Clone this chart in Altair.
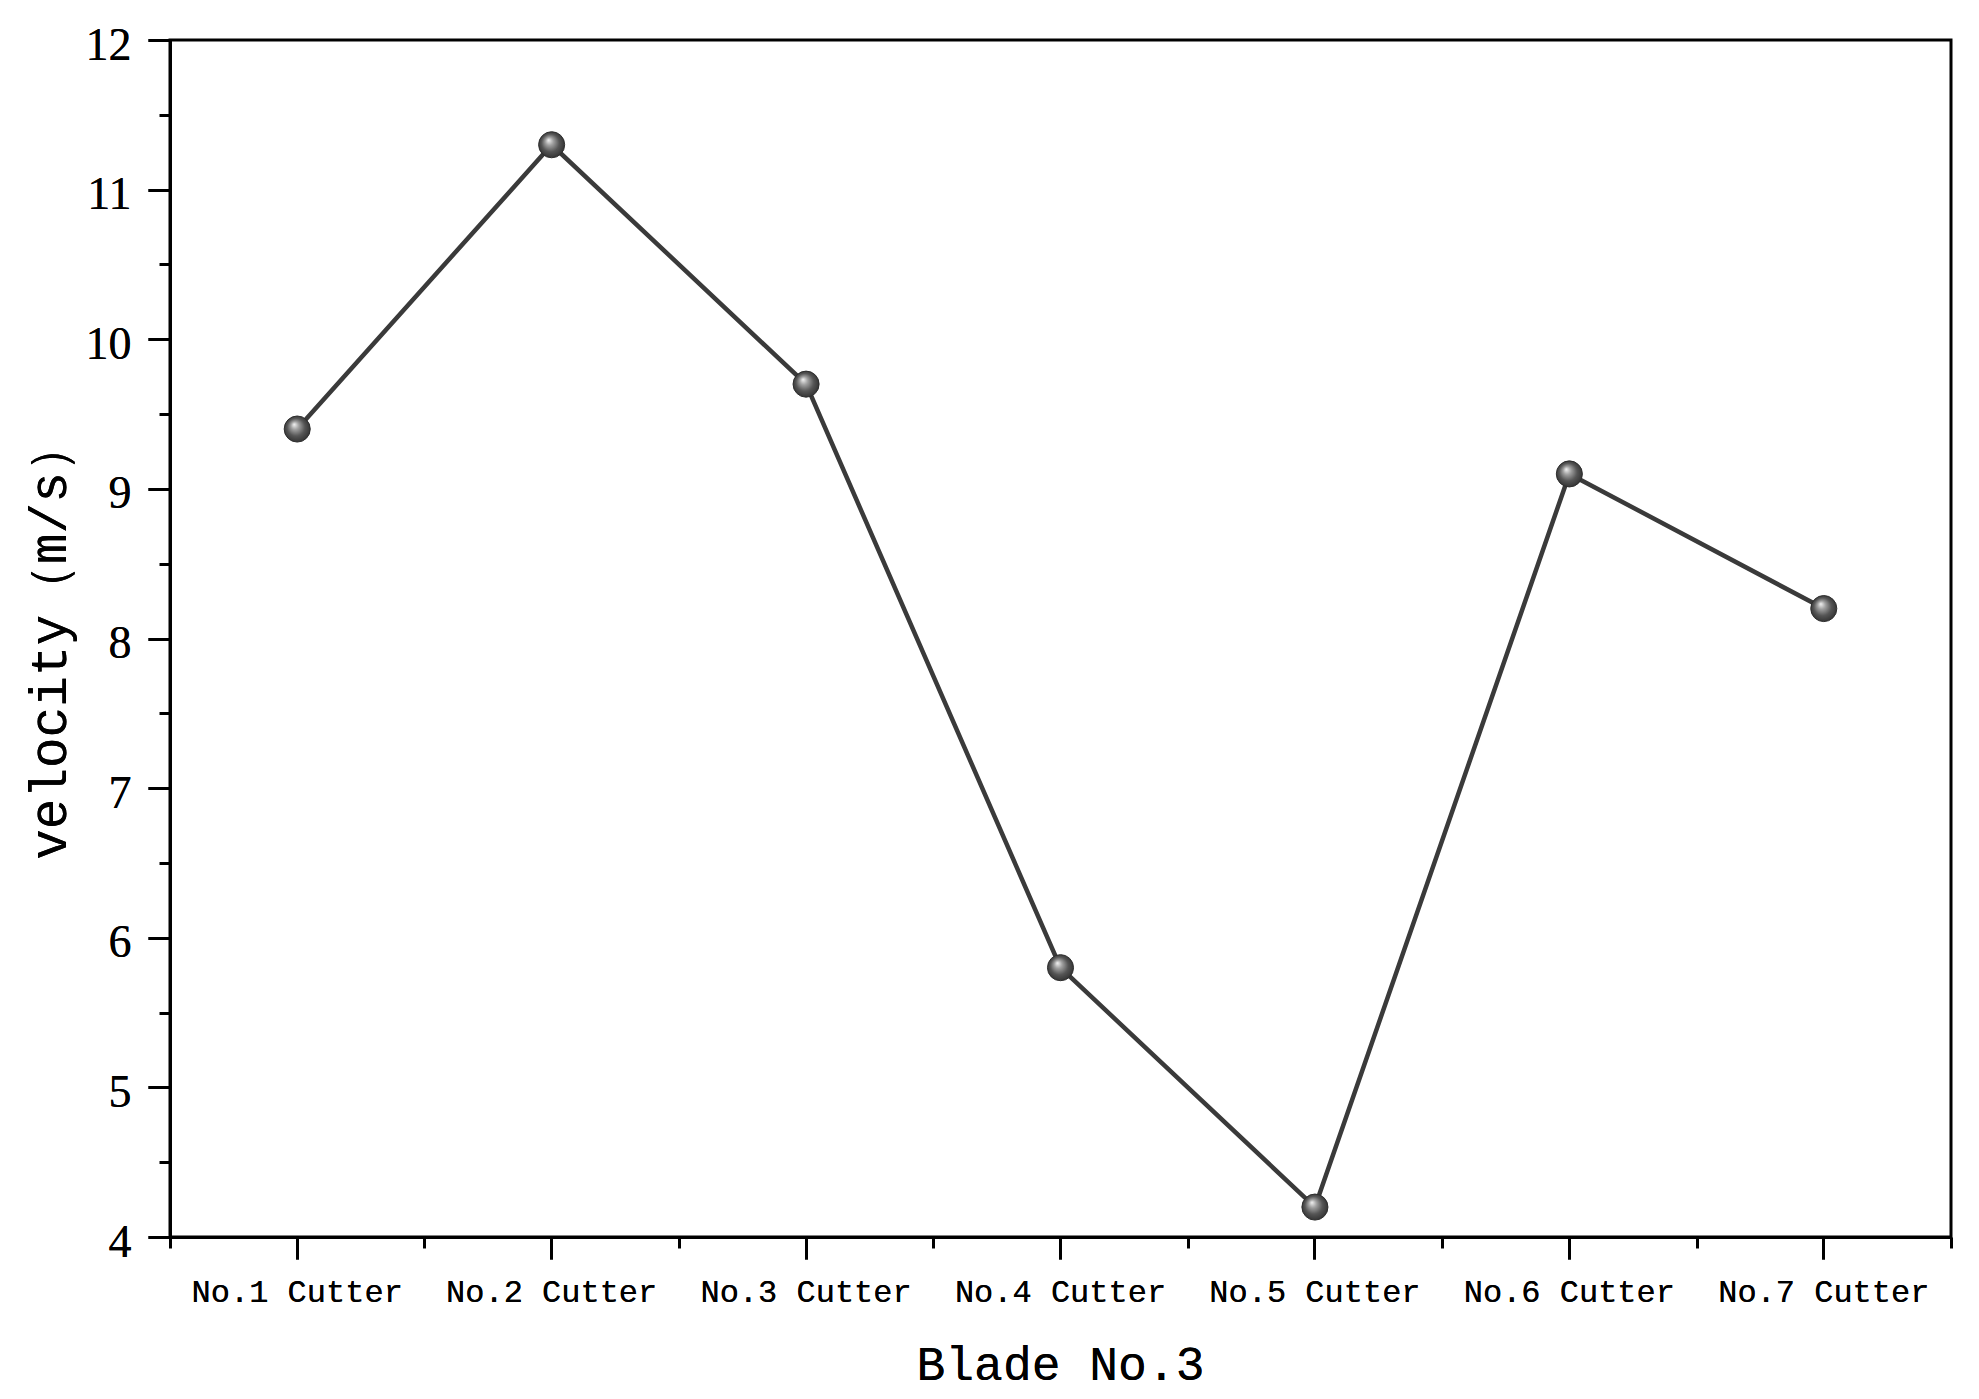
import altair as alt
import pandas as pd

cutters = ["No.1 Cutter", "No.2 Cutter", "No.3 Cutter", "No.4 Cutter",
           "No.5 Cutter", "No.6 Cutter", "No.7 Cutter"]
velocity = [9.4, 11.3, 9.7, 5.8, 4.2, 9.1, 8.2]
y_major = [4, 5, 6, 7, 8, 9, 10, 11, 12]
y_minor = [4.5, 5.5, 6.5, 7.5, 8.5, 9.5, 10.5, 11.5]

df = pd.DataFrame({"cutter": cutters, "velocity": velocity})

xscale = alt.Scale(type="band", domain=cutters, paddingInner=0, paddingOuter=0)
yscale = alt.Scale(domain=[4, 12], nice=False, zero=False)

common_axis = dict(grid=False, tickColor="black", tickWidth=3, domainColor="black",
                   domainWidth=3, labelColor="black", titleColor="black",
                   titleFontWeight="normal", labelLimit=0, titleLimit=0)

x_main = alt.X(
    "cutter:N", scale=xscale, title="Blade No.3",
    axis=alt.Axis(orient="bottom", labelAngle=0, labelFont="Liberation Mono",
                  labelFontSize=32, labelPadding=17, tickSize=22,
                  titleFont="Liberation Mono", titleFontSize=48,
                  titleBaseline="alphabetic", titleAlign="center",
                  titleX=890, titleY=142, **common_axis))
y_main = alt.Y(
    "velocity:Q", scale=yscale, title="velocity（m/s）",
    axis=alt.Axis(orient="left", values=y_major, labelFont="Liberation Serif",
                  labelFontSize=46, labelPadding=17, labelOffset=5, tickSize=22,
                  titleFont="Liberation Mono", titleFontSize=51, titleAngle=270,
                  titleBaseline="alphabetic", titleAlign="center",
                  titleX=-105, titleY=600, **common_axis))

sphere = {
    "gradient": "radial",
    "x1": 0.38, "y1": 0.32, "r1": 0.0,
    "x2": 0.5, "y2": 0.5, "r2": 0.55,
    "stops": [
        {"offset": 0.0, "color": "#f4f4f4"},
        {"offset": 0.28, "color": "#a0a0a0"},
        {"offset": 0.62, "color": "#555555"},
        {"offset": 1.0, "color": "#2e2e2e"},
    ],
}

base = alt.Chart(df)

line = base.mark_line(color="#3a3a3a", strokeWidth=4.5).encode(x=x_main, y=y_main)
points = base.mark_point(shape="circle", size=680, filled=True, fill=sphere,
                         stroke="#2e2e2e", strokeWidth=1, opacity=1).encode(x=x_main, y=y_main)

minor = base.mark_point(opacity=0).encode(
    x=alt.X("cutter:N", scale=xscale, title="",
            axis=alt.Axis(orient="bottom", tickBand="extent", labels=False,
                          domain=False, tickSize=11, grid=False,
                          tickColor="black", tickWidth=3)),
    y=alt.Y("velocity:Q", scale=yscale, title="",
            axis=alt.Axis(orient="left", values=y_minor, labels=False,
                          domain=False, tickSize=11, grid=False,
                          tickColor="black", tickWidth=3)),
)

chart = alt.layer(line, points, minor).resolve_axis(
    x="independent", y="independent"
).properties(
    width=1781, height=1197,
    padding={"left": 162, "top": 32, "right": 20, "bottom": 160},
    autosize=alt.AutoSizeParams(type="none"),
    background="white",
).configure_view(stroke="black", strokeWidth=3)

chart.save("out.html", embed_options={"renderer": "svg", "actions": False})
